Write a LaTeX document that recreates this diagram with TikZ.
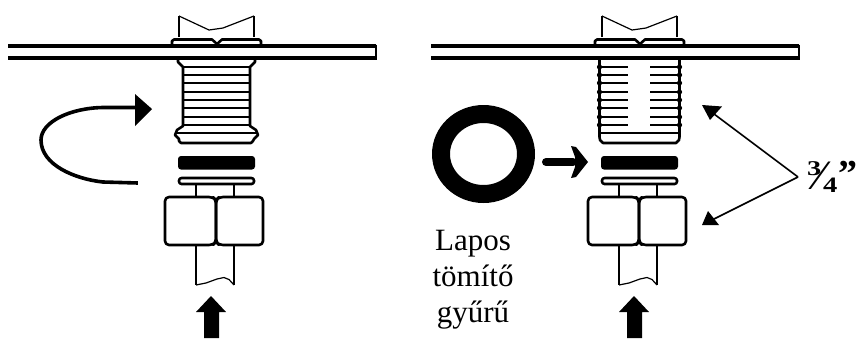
\documentclass[tikz,border=0pt]{standalone}
\usepackage{fontspec}
\setmainfont{Liberation Serif}
\tikzset{
  ln/.style={line width=2.6pt,black,line join=round},
  thin/.style={line width=1.2pt,black},
  thr/.style={line width=2.4pt,black},
  lbl/.style={inner sep=0pt,align=center},
  frac/.style={inner sep=0pt,anchor=base west,font=\bfseries},
  dimline/.style={line width=1.6pt,black},
  fitting/.pic={
    % plate
    \draw[line width=3.2pt] (-206,46) -- (162,46) (-206,58) -- (162,58);
    \draw[line width=2pt] (162,44.5) -- (162,59.5);
    % pipe stub on top
    \draw[ln] (-35,37) -- (-35,16) (40,37) -- (40,16);
    \draw[thin] (-35,16) -- (-5,30) -- (9,28) -- (40,16);
    % top flange
    \draw[ln] (-42,45) -- (-42,41) -- (-40,39.5) -- (-2,39.5) -- (3,44) -- (8,39.5) -- (45,39.5) -- (47,41) -- (47,45);
    % washer
    \fill[rounded corners=3pt] (-36,156) rectangle (41,169.5);
    % nut flange
    \draw[ln,rounded corners=2.5pt] (-35,178) rectangle (40,184);
    \draw[ln] (-18,184) -- (-18,197) (20,184) -- (20,197);
    % nut
    \draw[ln,rounded corners=4pt] (-1,197) -- (-49,197) -- (-49,245) -- (-1,245) -- (2,242) -- (2,200) -- cycle;
    \draw[ln,rounded corners=4pt] (5,197) -- (49,197) -- (49,245) -- (5,245) -- (2,242) -- (2,200) -- cycle;
    % tube
    \draw[ln] (-18,245) -- (-18,285) (20,245) -- (20,285);
    \draw[thin] (-18,285) -- (-8,283) -- (3,279) -- (10,277.5) -- (15,279.5) -- (20,285);
    % up arrow
    \fill (-3,296) -- (12,312) -- (5,312) -- (5,338) -- (-10,338) -- (-10,312) -- (-18,312) -- cycle;
  }
}
\begin{document}
\begin{tikzpicture}[x=1pt,y=-1pt]
\useasboundingbox (0,0) rectangle (858,338);
% ---------- left fitting
\pic at (214,0) {fitting};
\draw[ln] (178,59) -- (178,62) -- (183,67) -- (183,126) -- (177,130) -- (175,135) -- (179,139) -- (179,141) -- (181,143) -- (251,143) -- (253,141) -- (254,139) -- (258,135) -- (256,130) -- (250,126) -- (250,67) -- (255,62) -- (255,59);
\foreach \y in {67,75,83,92,100,108,117,125}{\draw[thr] (183,\y) -- (250,\y);}
\draw[thr] (176,133) -- (257,133);
% rotation arrow
\node[lbl,minimum size=0pt] (rotEnd) at (138,183) {};
\node[lbl,minimum size=0pt] (rotTip) at (135,107.5) {};
\draw[line width=3.6pt] (rotEnd) -- (103,182) .. controls (75,179) and (41,165) .. (41,140) .. controls (41,122) and (70,108) .. (103,107.5) -- (rotTip);
\fill (135,94) -- (152,109) -- (135,126) -- cycle;
% ---------- right fitting
\pic at (637,0) {fitting};
\foreach \y in {67,75,83,92,100,108,117,125}{
  \draw[thr] (601,\y) -- (628,\y);
  \draw[thr] (650,\y) -- (678,\y);
  \fill (599.5,\y) circle (2.6pt);
  \fill (679.5,\y) circle (2.6pt);
}
\draw[ln] (599.5,59) -- (599.5,137) -- (600,140) -- (603,143) -- (676,143) -- (679,140) -- (679.5,137) -- (679.5,59);
\draw[thr] (599,133) -- (680,133);
% gasket ring
\node[lbl] (ring) at (483.5,154) {};
\fill[even odd rule] (ring) ellipse [x radius=51.5pt,y radius=49pt] (ring) ellipse [x radius=33.5pt,y radius=31pt];
% small arrow
\coordinate (smallA) at (546,162);
\coordinate (smallB) at (573,162);
\draw[line width=8pt,line cap=round] (smallA) -- (smallB);
\fill (571,146) -- (576,147) -- (588,162) -- (576,177) -- (571,178) -- (575,167) -- (575,157) -- cycle;
% label
\node[lbl,font=\fontsize{31}{36}\selectfont] (lab) at (473,280) {Lapos\\tömítő\\gyűrű};
% dimension arrows
\coordinate (vtx) at (798,177);
\coordinate (upTip) at (702,105);
\coordinate (loTip) at (702,225);
\draw[dimline] (vtx) -- (712,112.5);
\draw[dimline] (vtx) -- (712,220);
\fill (upTip) -- (722,106.5) -- (710,120) -- cycle;
\fill (loTip) -- (708,211) -- (719,225) -- cycle;
\node[frac] (num) at (807,175) {\scalebox{1.35}[1]{\fontsize{21}{21}\selectfont 3}};
\node[frac,anchor=center] (sl) at (820,176) {\fontsize{42}{42}\selectfont\symbol{"2044}};
\node[frac] (den) at (823,192) {\scalebox{1.3}[1]{\fontsize{22}{22}\selectfont 4}};
\node[frac] (qt) at (838.5,186) {\fontsize{38}{38}\selectfont ”};
\end{tikzpicture}
\end{document}
